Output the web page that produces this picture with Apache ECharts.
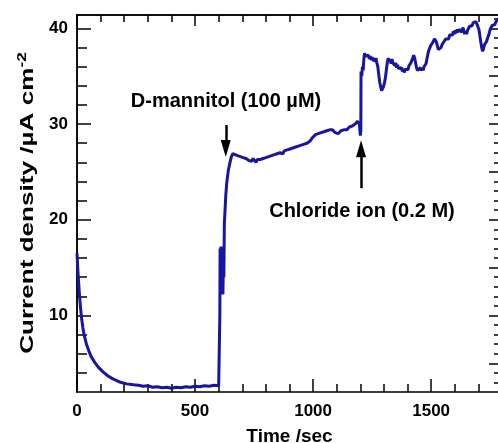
<!DOCTYPE html>
<html>
<head>
<meta charset="utf-8">
<script src="https://cdn.jsdelivr.net/npm/echarts@6/dist/echarts.min.js"></script>
<style>
    body { margin: 0; background: #fff; }
    #chart { width: 498px; height: 443px; }
</style>
</head>
<body>
<div id="chart"></div>
<script>
// time (s) and current density (uA cm-2)
var time = [0, 3, 6, 10, 15, 20, 25, 30, 40, 50, 60, 75, 90, 110, 130, 150, 180, 210, 240, 260, 280, 300, 320, 340, 360, 380, 400, 420, 440, 460, 480, 500, 520, 540, 560, 580, 600,
    603, 605, 606, 608, 610, 612, 614, 616, 618, 620, 622, 624, 627, 630, 634, 638, 642, 648, 654,
    660, 665, 670, 675, 680, 686, 692, 698, 704, 710, 716, 722, 728, 734, 740, 746, 752, 758, 764, 770, 776, 782, 788, 794,
    800, 806, 812, 818, 824, 830, 836, 842, 848, 854, 860, 866, 872, 878, 884, 890, 896, 902, 908, 914, 920, 926, 932, 938, 944, 950, 956, 962, 968, 974, 980, 986, 992, 998,
    1004, 1010, 1016, 1022, 1028, 1034, 1040, 1046, 1052, 1058, 1064, 1070, 1076, 1082, 1088, 1094, 1100, 1106, 1112, 1118, 1124, 1130, 1136, 1142, 1148, 1154, 1160, 1166, 1172, 1178, 1184, 1188, 1192, 1196, 1199, 1200, 1202,
    1203, 1206, 1209, 1212, 1215, 1218, 1222, 1226, 1230, 1234, 1238, 1242, 1246, 1250, 1254, 1258, 1262, 1266, 1270, 1274, 1278, 1282, 1286, 1290, 1294, 1298,
    1302, 1306, 1310, 1314, 1318, 1322, 1326, 1330, 1334, 1338, 1342, 1346, 1350, 1354, 1358, 1362, 1366, 1370, 1374, 1378, 1382, 1386, 1390, 1394, 1398,
    1402, 1406, 1410, 1414, 1418, 1422, 1426, 1430, 1434, 1438, 1442, 1446, 1450, 1454, 1458, 1462, 1466, 1470, 1474, 1478, 1482, 1486, 1490, 1494, 1498,
    1502, 1506, 1510, 1514, 1518, 1522, 1526, 1530, 1534, 1538, 1542, 1546, 1550, 1554, 1558, 1562, 1566, 1570, 1574, 1578, 1582, 1586, 1590, 1594, 1598,
    1602, 1606, 1610, 1614, 1618, 1622, 1626, 1630, 1634, 1638, 1642, 1646, 1650, 1654, 1658, 1662, 1666, 1670, 1674, 1678, 1682, 1686, 1690, 1694, 1698,
    1702, 1706, 1710, 1714, 1718, 1722, 1726, 1730, 1734, 1738, 1742, 1746, 1750, 1754, 1758, 1762, 1766, 1770, 1774, 1778, 1782, 1786, 1790, 1800];
var current = [16.5, 15.0, 13.8, 12.3, 10.8, 9.6, 8.7, 8.0, 7.0, 6.3, 5.7, 5.1, 4.6, 4.1, 3.7, 3.4, 3.05, 2.85, 2.75, 2.7, 2.6, 2.65, 2.5, 2.55, 2.45, 2.5, 2.4, 2.5, 2.45, 2.55, 2.5, 2.6, 2.55, 2.65, 2.6, 2.7, 2.65,
    2.7, 10.0, 17.0, 15.5, 17.2, 16.0, 17.0, 13.0, 12.2, 15.5, 14.0, 19.5, 21.0, 22.5, 23.8, 24.6, 25.3, 26.0, 26.6,
    26.9, 27.0, 26.8, 26.9, 26.7, 26.8, 26.6, 26.7, 26.5, 26.6, 26.4, 26.5, 26.2, 26.3, 26.1, 26.4, 26.2, 26.0, 26.3, 26.1, 26.3, 26.2, 26.4, 26.3,
    26.5, 26.4, 26.6, 26.5, 26.7, 26.6, 26.8, 26.7, 26.9, 26.8, 27.0, 27.1, 26.9, 27.2, 27.1, 27.3, 27.2, 27.4, 27.3, 27.5, 27.4, 27.6, 27.5, 27.7, 27.6, 27.8, 27.7, 27.9, 27.8, 28.0, 28.0, 28.2, 28.4, 28.6,
    28.8, 28.9, 29.1, 29.0, 29.2, 29.1, 29.3, 29.2, 29.4, 29.3, 29.5, 29.4, 29.3, 29.4, 29.2, 29.1, 29.0, 29.0, 29.2, 29.3, 29.2, 29.4, 29.5, 29.4, 29.6, 29.7, 29.6, 29.8, 29.9, 30.0, 30.2, 30.3, 30.1, 30.0, 29.9, 28.8, 29.3,
    35.5, 35.0, 36.0, 35.6, 36.8, 37.4, 37.1, 37.3, 36.9, 37.2, 36.8, 37.1, 36.7, 37.0, 36.6, 36.9, 36.5, 36.9, 36.4, 36.0, 35.2, 34.4, 33.9, 33.5, 33.6, 33.9,
    34.3, 34.8, 35.6, 36.4, 36.9, 36.5, 36.8, 36.3, 36.8, 36.4, 36.6, 36.1, 36.4, 35.9, 36.2, 35.8, 36.0, 35.6, 35.9, 35.5, 35.8, 35.4, 35.7, 35.5, 35.9,
    35.7, 36.1, 35.9, 36.4, 36.3, 36.9, 37.2, 36.9, 36.4, 35.9, 35.6, 35.8, 35.5, 35.9, 35.6, 35.9, 35.6, 36.0, 35.8, 36.3, 36.8, 37.3, 37.7, 37.9, 38.2,
    38.0, 38.5, 38.4, 38.9, 39.0, 38.6, 38.2, 37.8, 37.9, 37.6, 38.0, 38.3, 38.1, 38.6, 38.4, 38.9, 38.7, 39.1, 38.9, 39.3, 39.1, 39.5, 39.3, 39.7, 39.4,
    39.8, 39.5, 39.9, 39.6, 39.9, 39.7, 40.0, 39.6, 40.1, 39.8, 39.4, 39.7, 39.4, 39.8, 39.9, 40.2, 40.0, 40.4, 40.3, 40.6, 40.5, 40.8, 40.7, 40.9, 40.5,
    39.9, 39.3, 38.6, 38.0, 37.6, 37.9, 38.3, 38.2, 38.6, 38.8, 39.2, 39.5, 39.9, 40.1, 40.3, 40.2, 40.5, 40.4, 40.7, 40.6, 40.9, 41.0, 41.1, 41.2];

var xMajor = [0, 500, 1000, 1500];
var xMinor = [100, 200, 300, 400, 600, 700, 800, 900, 1100, 1200, 1300, 1400, 1600, 1700];
var yMajor = [10, 20, 30, 40];
var yMinor = [4, 6, 8, 12, 14, 16, 18, 22, 24, 26, 28, 32, 34, 36, 38];
var yRightMajor = [5, 10, 15, 20, 25, 30, 35, 40];
var yRightMinor = [3, 4, 6, 7, 8, 9, 11, 12, 13, 14, 16, 17, 18, 19, 21, 22, 23, 24, 26, 27, 28, 29, 31, 32, 33, 34, 36, 37, 38, 39, 41];

// annotations: [time, current] in data units
var mannitolText = [631, 32.4];
var mannitolArrow = [[630, 29.9], [630, 27.46]];
var chlorideText = [1207, 20.84];
var chlorideArrow = [[1203, 23.3], [1203, 27.42]];

var FONT = 'Liberation Sans, Arial, sans-serif';

function xAx(pos, ticks, len, labels) {
    return {
        type: 'value', position: pos, min: 0, max: 1800,
        axisLine: {show: labels !== undefined || pos === 'top', onZero: false, lineStyle: {color: '#000', width: 1.5}},
        axisTick: {inside: true, length: len, customValues: ticks, lineStyle: {color: '#000', width: 1.5}},
        axisLabel: labels ? {
            customValues: labels, margin: 11, color: '#000',
            fontFamily: FONT, fontWeight: 'bold', fontSize: 17,
            formatter: function (v) { return String(v); }
        } : {show: false},
        splitLine: {show: false}
    };
}

function yAx(pos, ticks, len, labels) {
    return {
        type: 'value', position: pos, min: 2, max: 41.4,
        axisLine: {show: true, onZero: false, lineStyle: {color: '#000', width: 1.5}},
        axisTick: {inside: true, length: len, customValues: ticks, lineStyle: {color: '#000', width: 1.5}},
        axisLabel: labels ? {
            customValues: labels, margin: 9, color: '#000',
            fontFamily: FONT, fontWeight: 'bold', fontSize: 17
        } : {show: false},
        splitLine: {show: false}
    };
}

var xAxes = [xAx('bottom', xMajor, 13, xMajor), xAx('bottom', xMinor, 8), xAx('top', xMajor, 11), xAx('top', xMinor, 7)];
xAxes[0].name = 'Time /sec';
xAxes[0].nameLocation = 'middle';
xAxes[0].nameGap = 35;
xAxes[0].nameTextStyle = {color: '#000', fontFamily: FONT, fontWeight: 'bold', fontSize: 19};

var yAxes = [yAx('left', yMajor, 14, yMajor), yAx('left', yMinor, 10), yAx('right', yRightMajor, 13), yAx('right', yRightMinor, 8)];

var points = time.map(function (t, i) { return [t, current[i]]; });

var chart = echarts.init(document.getElementById('chart'), null, {renderer: 'canvas'});
chart.setOption({
    animation: false,
    backgroundColor: '#fff',
    grid: {left: 77, top: 15, width: 425, height: 377, containLabel: false, outerBoundsMode: 'none'},
    xAxis: xAxes,
    yAxis: yAxes,
    // y axis title, stretched along its length like the original
    graphic: [{
        type: 'text',
        x: 28, y: 203,
        rotation: Math.PI / 2,
        scaleX: 1.45,
        silent: true,
        style: {
            text: 'Current density /µA cm{sup|-2}',
            fill: '#000', fontFamily: FONT, fontWeight: 'bold', fontSize: 18,
            align: 'center', verticalAlign: 'middle', lineHeight: 22,
            rich: {sup: {fill: '#000', fontFamily: FONT, fontWeight: 'bold', fontSize: 12, verticalAlign: 'top', lineHeight: 22}}
        }
    }],
    series: [{
        type: 'line',
        data: points,
        xAxisIndex: 0,
        yAxisIndex: 0,
        showSymbol: false,
        symbol: 'none',
        lineStyle: {color: '#1616a0', width: 3},
        markLine: {
            silent: true,
            symbol: ['none', 'none'],
            label: {show: false},
            lineStyle: {color: '#000', width: 2.5, type: 'solid'},
            data: [
                [{coord: mannitolArrow[0]}, {coord: mannitolArrow[1]}],
                [{coord: chlorideArrow[0]}, {coord: chlorideArrow[1]}]
            ]
        },
        markPoint: {
            silent: true,
            symbol: 'circle',
            symbolSize: 1,
            itemStyle: {color: 'rgba(0,0,0,0)'},
            label: {
                show: true, position: 'inside', color: '#000',
                fontFamily: FONT, fontWeight: 'bold', fontSize: 20
            },
            data: [
                {coord: mannitolText, label: {formatter: 'D-mannitol (100 µM)'}},
                {coord: chlorideText, label: {formatter: 'Chloride ion (0.2 M)'}},
                {coord: mannitolArrow[1], symbol: 'triangle', symbolSize: [10, 17], symbolRotate: 180,
                    itemStyle: {color: '#000'}, label: {show: false}},
                {coord: chlorideArrow[1], symbol: 'triangle', symbolSize: [10, 17],
                    itemStyle: {color: '#000'}, label: {show: false}}
            ]
        }
    }]
});
</script>
</body>
</html>
